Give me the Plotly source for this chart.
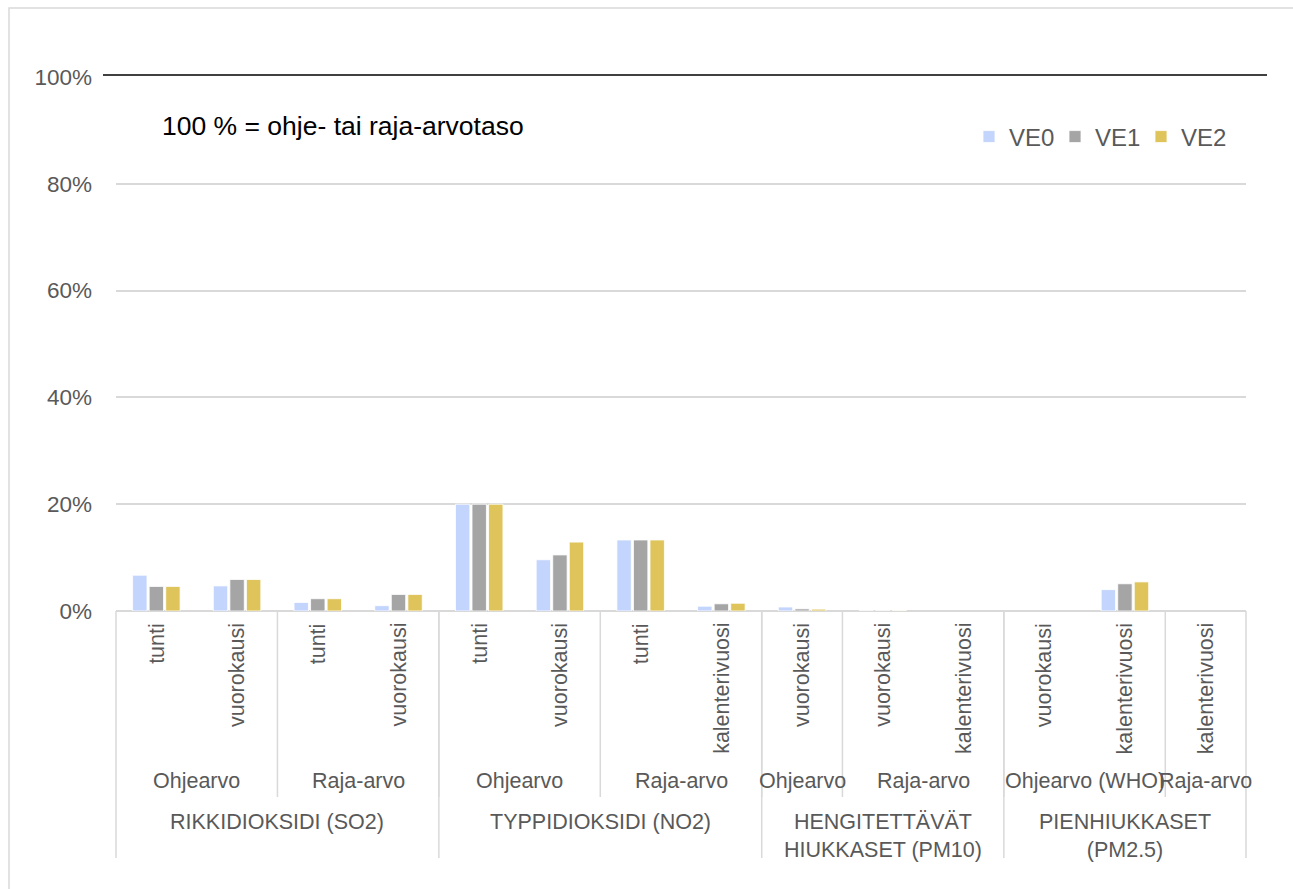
import plotly.graph_objects as go

# Bottom-level categories (averaging period)
periods = ["tunti", "vuorokausi", "tunti", "vuorokausi",
           "tunti", "vuorokausi", "tunti", "kalenterivuosi",
           "vuorokausi", "vuorokausi", "kalenterivuosi",
           "vuorokausi", "kalenterivuosi", "kalenterivuosi"]

# Middle level: value type and number of periods in each
value_types = ["Ohjearvo", "Raja-arvo", "Ohjearvo", "Raja-arvo",
               "Ohjearvo", "Raja-arvo", "Ohjearvo (WHO)", "Raja-arvo"]
value_type_sizes = [2, 2, 2, 2, 1, 2, 2, 1]

# Top level: pollutant and number of periods in each
pollutants = ["RIKKIDIOKSIDI (SO2)", "TYPPIDIOKSIDI (NO2)",
              "HENGITETTÄVÄT<br>HIUKKASET (PM10)", "PIENHIUKKASET<br>(PM2.5)"]
pollutant_sizes = [4, 4, 3, 3]

# Share of guideline / limit value, %
ve0 = [6.7, 4.7, 1.6, 1.0, 20.0, 9.6, 13.3, 0.9, 0.75, 0.05, None, None, 4.0, None]
ve1 = [4.6, 5.9, 2.3, 3.1, 20.0, 10.5, 13.3, 1.35, 0.4, 0.1, None, None, 5.1, None]
ve2 = [4.6, 5.9, 2.3, 3.1, 20.0, 12.9, 13.3, 1.45, 0.35, 0.1, None, None, 5.45, None]

series = [("VE0", ve0, "#C3D5FC"), ("VE1", ve1, "#A5A5A5"), ("VE2", ve2, "#DEC45B")]

W, H = 1293, 889
L, R, T, B = 116, 1246, 77, 611          # plot area in pixels
n = len(periods)
x_idx = list(range(n))

TXT = "#595959"
GRID = "#D9D9D9"
FONT = "Liberation Sans, Arial, sans-serif"
FS_CAT = 21.5
FS_TICK = 22.5
FS_LEG = 24
FS_NOTE = 26.5


def py(pix):
    """pixel row -> paper y"""
    return (B - pix) / (B - T)


def px(pix):
    """pixel column -> paper x"""
    return (pix - L) / (R - L)


fig = go.Figure()
for name, vals, col in series:
    fig.add_trace(go.Bar(
        x=x_idx, y=vals, name=name,
        marker=dict(color=col, line=dict(color="white", width=0.8)),
    ))

annotations = []
shapes = []

# rotated period labels
for i, lab in enumerate(periods):
    annotations.append(dict(
        x=i, y=py(621), xref="x", yref="paper", text=lab, textangle=-90,
        showarrow=False, xanchor="center", yanchor="top",
        font=dict(family=FONT, size=FS_CAT, color=TXT)))

# value-type labels and separators
start = 0
for lab, size in zip(value_types, value_type_sizes):
    annotations.append(dict(
        x=start + (size - 1) / 2, y=py(781), xref="x", yref="paper", text=lab,
        showarrow=False, xanchor="center", yanchor="middle",
        font=dict(family=FONT, size=FS_CAT, color=TXT)))
    start += size
    if start < n:
        xb = start / n
        shapes.append(dict(type="line", xref="paper", yref="paper",
                           x0=xb, x1=xb, y0=py(611), y1=py(797),
                           line=dict(color=GRID, width=1.5)))

# pollutant labels and separators
start = 0
for k, (lab, size) in enumerate(zip(pollutants, pollutant_sizes)):
    annotations.append(dict(
        x=start + (size - 1) / 2, y=py(808), xref="x", yref="paper", text=lab,
        showarrow=False, xanchor="center", yanchor="top",
        font=dict(family=FONT, size=FS_CAT, color=TXT)))
    if k == 0:
        shapes.append(dict(type="line", xref="paper", yref="paper",
                           x0=0, x1=0, y0=py(611), y1=py(858),
                           line=dict(color=GRID, width=1.5)))
    start += size
    xb = start / n
    shapes.append(dict(type="line", xref="paper", yref="paper",
                       x0=xb, x1=xb, y0=py(611), y1=py(858),
                       line=dict(color=GRID, width=1.5)))

# note text
annotations.append(dict(
    x=px(160), y=py(126), xref="paper", yref="paper",
    text="100 % = ohje- tai raja-arvotaso", showarrow=False,
    xanchor="left", yanchor="middle",
    font=dict(family=FONT, size=FS_NOTE, color="#000000")))

# 100 % reference line
shapes.append(dict(type="line", xref="paper", yref="paper",
                   x0=px(103), x1=px(1267), y0=py(75), y1=py(75),
                   line=dict(color="#404040", width=2)))

# chart border
shapes.append(dict(type="rect", xref="paper", yref="paper",
                   x0=px(9), x1=px(1310), y0=py(905), y1=py(8),
                   line=dict(color=GRID, width=1.5), fillcolor="rgba(0,0,0,0)"))

fig.update_layout(
    width=W, height=H,
    margin=dict(l=L, r=W - R, t=T, b=H - B),
    paper_bgcolor="white", plot_bgcolor="white",
    barmode="group", bargap=0.385, bargroupgap=0.13,
    font=dict(family=FONT, size=FS_CAT, color=TXT),
    showlegend=True,
    legend=dict(orientation="h", x=px(969), y=py(137), xanchor="left",
                yanchor="middle", font=dict(family=FONT, size=FS_LEG, color=TXT),
                bgcolor="rgba(0,0,0,0)", itemwidth=30,
                entrywidth=41, entrywidthmode="pixels"),
    xaxis=dict(range=[-0.5, n - 0.5], showticklabels=False, showgrid=False,
               zeroline=False, showline=False, ticks=""),
    yaxis=dict(range=[0, 100], dtick=20, ticksuffix="%", showgrid=True,
               gridcolor=GRID, gridwidth=1.5, zeroline=True,
               zerolinecolor=GRID, zerolinewidth=1.5, showline=False,
               ticks="", ticklabelstandoff=23,
               tickfont=dict(family=FONT, size=FS_TICK, color=TXT)),
    annotations=annotations,
    shapes=shapes,
)

fig.write_html("out.html")
